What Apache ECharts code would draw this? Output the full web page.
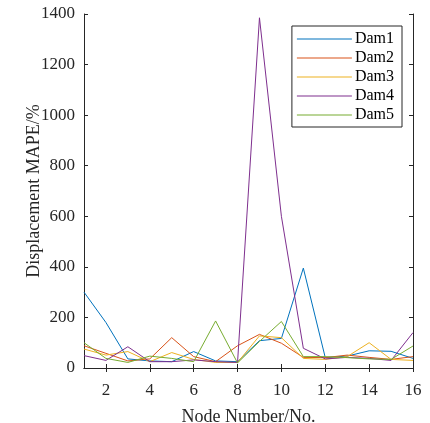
<!DOCTYPE html>
<html>
<head>
<meta charset="utf-8">
<script src="https://cdn.jsdelivr.net/npm/echarts@6/dist/echarts.min.js"></script>
<style>
  html, body { margin: 0; padding: 0; background: #fff; }
  #chart { width: 430px; height: 423px; }
</style>
</head>
<body>
<div id="chart"></div>
<script>
// Node numbers along the x axis
const nodes = [1, 2, 3, 4, 5, 6, 7, 8, 9, 10, 11, 12, 13, 14, 15, 16];
const xTicks = [2, 4, 6, 8, 10, 12, 14, 16];

// Displacement MAPE (%) per node for each dam
const dam1 = [300, 180, 36, 28, 25, 65, 28, 25, 108, 117, 395, 41, 47, 68, 66, 38];
const dam2 = [88, 58, 28, 36, 120, 45, 25, 88, 133, 98, 42, 41, 51, 42, 34, 45];
const dam3 = [75, 51, 65, 25, 61, 34, 22, 22, 127, 120, 38, 34, 45, 100, 34, 30];
const dam4 = [49, 30, 84, 25, 25, 32, 25, 22, 1385, 600, 78, 36, 42, 38, 30, 140];
const dam5 = [100, 38, 22, 47, 38, 25, 186, 20, 105, 184, 45, 45, 41, 36, 34, 87];

const seriesNames = ['Dam1', 'Dam2', 'Dam3', 'Dam4', 'Dam5'];
const seriesData = [dam1, dam2, dam3, dam4, dam5];
const colors = ['#0072BD', '#D95319', '#EDB120', '#7E2F8E', '#77AC30'];

const font = 'Liberation Serif, Times New Roman, serif';
const axisLine = { show: true, lineStyle: { color: '#262626', width: 1 } };
const tickStyle = { show: true, inside: true, length: 4, lineStyle: { color: '#262626', width: 1 } };

const chart = echarts.init(document.getElementById('chart'), null, { renderer: 'canvas' });

chart.setOption({
  animation: false,
  backgroundColor: '#fff',
  color: colors,
  textStyle: { fontFamily: font },
  grid: { left: 84, right: 17, top: 14, bottom: 55, containLabel: false, outerBoundsMode: 'none' },
  legend: {
    orient: 'vertical',
    right: 28,
    top: 26,
    padding: [5, 8, 4, 5],
    itemGap: 3,
    itemWidth: 55,
    itemHeight: 16,
    backgroundColor: '#fff',
    borderColor: '#262626',
    borderWidth: 1,
    icon: 'path://M0,7.5 L55,7.5 L55,8.5 L0,8.5 Z',
    textStyle: { fontFamily: font, fontSize: 16, color: '#000', padding: [0, 0, 0, -2] },
    data: seriesNames
  },
  xAxis: [
    {
      type: 'value',
      min: 1,
      max: 16,
      name: 'Node Number/No.',
      nameLocation: 'middle',
      nameGap: 40,
      nameMoveOverlap: false,
      nameTextStyle: { fontFamily: font, fontSize: 18, color: '#262626' },
      axisLine: axisLine,
      axisTick: Object.assign({ customValues: xTicks }, tickStyle),
      axisLabel: { customValues: xTicks, fontFamily: font, fontSize: 17, color: '#262626', margin: 14 },
      splitLine: { show: false }
    },
    {
      type: 'value',
      position: 'top',
      min: 1,
      max: 16,
      axisLine: axisLine,
      axisTick: Object.assign({ customValues: xTicks }, tickStyle),
      axisLabel: { show: false },
      splitLine: { show: false }
    }
  ],
  yAxis: [
    {
      type: 'value',
      min: 0,
      max: 1400,
      interval: 200,
      name: 'Displacement MAPE/%',
      nameLocation: 'middle',
      nameGap: 41,
      nameMoveOverlap: false,
      nameTextStyle: { fontFamily: font, fontSize: 18, color: '#262626' },
      axisLine: axisLine,
      axisTick: tickStyle,
      axisLabel: { fontFamily: font, fontSize: 17, color: '#262626', margin: 9, formatter: (v) => String(v) },
      splitLine: { show: false }
    },
    {
      type: 'value',
      position: 'right',
      min: 0,
      max: 1400,
      interval: 200,
      axisLine: axisLine,
      axisTick: tickStyle,
      axisLabel: { show: false },
      splitLine: { show: false }
    }
  ],
  series: seriesNames.map((name, i) => ({
    name: name,
    type: 'line',
    xAxisIndex: 0,
    yAxisIndex: 0,
    showSymbol: false,
    symbol: 'none',
    lineStyle: { width: 1, color: colors[i] },
    itemStyle: { color: colors[i] },
    data: nodes.map((n, j) => [n, seriesData[i][j]])
  }))
});
</script>
</body>
</html>
